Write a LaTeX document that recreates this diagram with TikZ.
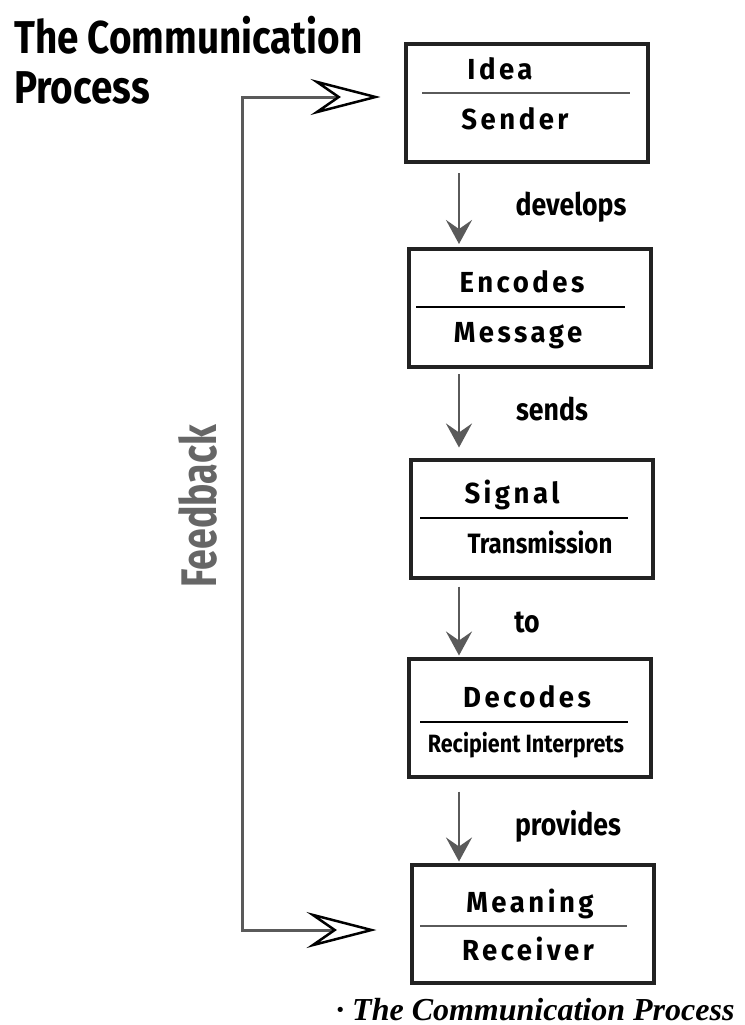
\documentclass[tikz,border=0pt]{standalone}
\usepackage{fontspec}
\usetikzlibrary{arrows.meta,calc}
\newfontfamily\headfont[FakeStretch=0.84]{Fira Sans}
\newfontfamily\boxfont[FakeStretch=0.95,LetterSpace=12]{Fira Sans}
\newfontfamily\smallfont[FakeStretch=0.86]{Fira Sans}
\newfontfamily\fbfont[FakeStretch=0.75]{Fira Sans}
\newfontfamily\capfont{Liberation Serif}
\definecolor{linegray}{HTML}{5A5A5A}
\definecolor{textgray}{HTML}{666666}
\definecolor{boxline}{HTML}{222222}
\tikzset{
  stagebox/.style={draw=boxline, line width=4pt, minimum width=242pt, minimum height=118pt, inner sep=0pt},
  toplabel/.style={anchor=base, font=\boxfont\bfseries\fontsize{29}{30}\selectfont, inner sep=0pt},
  botlabel/.style={anchor=base, font=\boxfont\bfseries\fontsize{29}{30}\selectfont, inner sep=0pt},
  verb/.style={anchor=base, font=\smallfont\bfseries\fontsize{31}{32}\selectfont, inner sep=0pt},
  divider/.style={line width=2pt},
  flow/.style={draw=linegray, line width=2.5pt, -{Stealth[length=24pt, width=26pt, inset=9pt]}},
  fbline/.style={draw=linegray, line width=3pt, {Stealth[open, length=70pt, width=36pt, inset=26pt, line width=2.5pt, color=black, fill=white]}-{Stealth[open, length=70pt, width=36pt, inset=26pt, line width=2.5pt, color=black, fill=white]}}
}
\begin{document}
\begin{tikzpicture}[x=1pt, y=-1pt]
\useasboundingbox (0,0) rectangle (744,1025);

% title
\node[anchor=base west, inner sep=0pt, font=\headfont\bfseries\fontsize{46}{50}\selectfont] (title1) at (14,53) {The Communication};
\node[anchor=base west, inner sep=0pt, font=\headfont\bfseries\fontsize{46}{50}\selectfont] (title2) at (14,103) {Process};

% stage boxes
\node[stagebox] (b1) at (526.5,103) {};
\node[stagebox] (b2) at (529.5,308) {};
\node[stagebox] (b3) at (531.5,518.5) {};
\node[stagebox] (b4) at (530,717.5) {};
\node[stagebox] (b5) at (532.5,923.5) {};

% dividers
\draw[divider, draw=linegray] (422,93) -- (630,93);
\draw[divider, draw=black] (416,307) -- (625,307);
\draw[divider, draw=black] (420,518) -- (628,518);
\draw[divider, draw=black] (420,722) -- (628,722);
\draw[divider, draw=linegray] (420,926) -- (627,926);

% labels
\node[toplabel] (l1a) at (500,80) {Idea};
\node[botlabel] (l1b) at (515,129) {Sender};
\node[toplabel] (l2a) at (522,292) {Encodes};
\node[botlabel] (l2b) at (518,342) {Message};
\node[toplabel] (l3a) at (512,503) {Signal};
\node[botlabel, font=\smallfont\bfseries\fontsize{28}{30}\selectfont] (l3b) at (540,553) {Transmission};
\node[toplabel] (l4a) at (527,707) {Decodes};
\node[botlabel, font=\smallfont\bfseries\fontsize{25}{28}\selectfont] (l4b) at (526,752) {Recipient Interprets};
\node[toplabel] (l5a) at (530,912) {Meaning};
\node[botlabel] (l5b) at (528,960) {Receiver};

% forward flow, all on one vertical line
\coordinate (ax) at (459,0);
\draw[flow, shorten <=9pt, shorten >=3pt] (b1.south -| ax) -- (b2.north -| ax);
\draw[flow, shorten <=5pt, shorten >=10pt] (b2.south -| ax) -- (b3.north -| ax);
\draw[flow, shorten <=7pt, shorten >=1pt] (b3.south -| ax) -- (b4.north -| ax);
\draw[flow, shorten <=13pt, shorten >=1pt] (b4.south -| ax) -- (b5.north -| ax);

\node[verb] (v1) at (571,215) {develops};
\node[verb] (v2) at (552,420) {sends};
\node[verb] (v3) at (527,632) {to};
\node[verb] (v4) at (568,835) {provides};

% feedback loop
\coordinate (fbtop) at (242,97);
\coordinate (fbbot) at (242,930);
\draw[fbline] ([shift={(-23,-6)}]b1.west) -- (fbtop) -- (fbbot) -- ([shift={(-33,6.5)}]b5.west);
\node[rotate=90, text=textgray, inner sep=0pt, font=\fbfont\bfseries\fontsize{50}{52}\selectfont] (fb) at (198,506) {Feedback};

% caption
\node[anchor=base west, inner sep=0pt, font=\capfont\bfseries\itshape\fontsize{32}{34}\selectfont] (cap) at (336,1020) {\textperiodcentered\ The Communication Process};
\end{tikzpicture}
\end{document}
